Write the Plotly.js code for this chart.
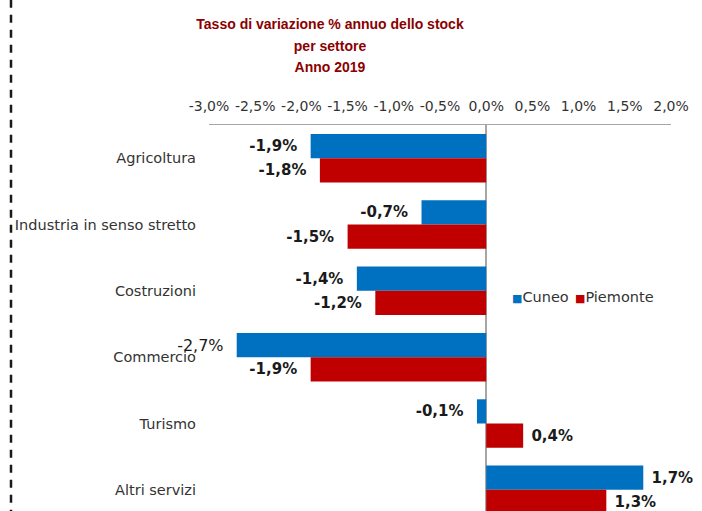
<!DOCTYPE html>
<html>
<head>
<meta charset="utf-8">
<script src="https://cdn.plot.ly/plotly-3.0.1.min.js"></script>
<style>
  html, body { margin: 0; padding: 0; overflow: hidden; background: #fff; }
</style>
</head>
<body>
<div id="chart"></div>
<script>
const sectors = ["Agricoltura", "Industria in senso stretto", "Costruzioni", "Commercio", "Turismo", "Altri servizi"];
const cuneo = [-1.9, -0.7, -1.4, -2.7, -0.1, 1.7];
const piemonte = [-1.8, -1.5, -1.2, -1.9, 0.4, 1.3];
const tickVals = [-3, -2.5, -2, -1.5, -1, -0.5, 0, 0.5, 1, 1.5, 2];
const tickText = ["-3,0%", "-2,5%", "-2,0%", "-1,5%", "-1,0%", "-0,5%", "0,0%", "0,5%", "1,0%", "1,5%", "2,0%"];
const titleLines = ["Tasso di variazione % annuo dello stock", "per settore", "Anno 2019"];

const COLORS = { Cuneo: "#0070c0", Piemonte: "#c00000" };

// italian format, padded so the label sits a bit away from the bar end
const label = v => {
    const s = v.toFixed(1).replace(".", ",") + "%";
    return v < 0 ? s + "\u00a0\u00a0" : "\u00a0" + s;
};

const barTrace = (name, values, weights, sizes) => ({
    type: "bar",
    orientation: "h",
    name: name,
    y: sectors,
    x: values,
    text: values.map(label),
    textposition: "outside",
    constraintext: "none",
    cliponaxis: false,
    textfont: {
        family: "DejaVu Sans",
        size: sizes,
        color: "#1a1a1a",
        weight: weights,
    },
    marker: { color: COLORS[name] },
    hoverinfo: "skip",
    showlegend: false,
});

const data = [
    barTrace("Cuneo", cuneo, [700, 700, 700, 400, 700, 700], [15, 15, 15, 16, 15, 15]),
    barTrace("Piemonte", piemonte, 700, 15),
];

// legend drawn as small square + name, like the original
const legendItem = (name, px) => ({
    xref: "paper",
    yref: "paper",
    x: (px - 209) / 462,
    y: (523 - 297) / 398,
    xanchor: "left",
    yanchor: "middle",
    showarrow: false,
    text: `<span style="color:${COLORS[name]};font-size:11px">■</span>${name}`,
    font: { family: "DejaVu Sans", size: 14.5, color: "#333" },
});

const layout = {
    width: 702,
    height: 530,
    margin: { l: 209, r: 31, t: 125, b: 7 },
    paper_bgcolor: "#fff",
    plot_bgcolor: "#fff",
    barmode: "group",
    bargap: 0.27,
    title: {
        // outer size sets the line spacing, inner 14 the glyphs
        text: titleLines.map(t => `<span style="font-size:14px">${t}</span>`).join("<br>"),
        font: { family: "Liberation Sans", size: 16.7, color: "#8b0000", weight: 700 },
        xref: "container",
        yref: "container",
        x: 330 / 702,
        xanchor: "center",
        y: 1 - 29 / 530,
        yanchor: "top",
    },
    xaxis: {
        side: "top",
        range: [-3, 2],
        tickvals: tickVals,
        ticktext: tickText,
        ticks: "",
        ticklabelstandoff: 7,
        tickfont: { family: "DejaVu Sans", size: 14, color: "#333" },
        showgrid: false,
        showline: true,
        linecolor: "#a6a6a6",
        linewidth: 1.5,
        zeroline: true,
        zerolinecolor: "#a6a6a6",
        zerolinewidth: 1.5,
        fixedrange: true,
    },
    yaxis: {
        type: "category",
        autorange: "reversed",
        ticks: "",
        ticklabelstandoff: 12,
        tickfont: { family: "DejaVu Sans", size: 14.5, color: "#333" },
        showgrid: false,
        showline: false,
        zeroline: false,
        fixedrange: true,
    },
    showlegend: false,
    annotations: [legendItem("Cuneo", 510), legendItem("Piemonte", 573)],
    shapes: [{
        type: "line",
        xref: "paper",
        yref: "paper",
        x0: (11 - 209) / 462,
        x1: (11 - 209) / 462,
        y0: -0.1,
        y1: 1.4,
        line: { color: "#1a1a1a", width: 2.5, dash: "8px,7px" },
    }],
};

Plotly.newPlot("chart", data, layout, { displayModeBar: false, staticPlot: true });
</script>
</body>
</html>
